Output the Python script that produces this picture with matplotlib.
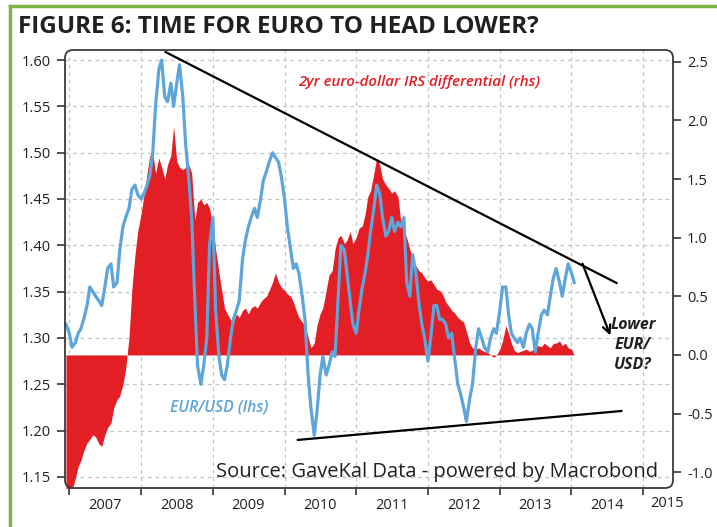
import numpy as np
import pandas as pd
import matplotlib
matplotlib.use("Agg")
import matplotlib.pyplot as plt
import matplotlib.dates as mdates
from matplotlib.patches import FancyBboxPatch
from matplotlib.lines import Line2D

# semi-monthly readings, starting mid-Dec 2006
start = "2006-12-15"

eurusd = [1.315, 1.305, 1.29, 1.295, 1.305, 1.31, 1.32, 1.335, 1.355, 1.35,
          1.345, 1.34, 1.335, 1.355, 1.375, 1.38, 1.355, 1.36, 1.395, 1.42,
          1.43, 1.44, 1.46, 1.465, 1.455, 1.45, 1.455, 1.465, 1.475, 1.50,
          1.55, 1.59, 1.60, 1.56, 1.555, 1.575, 1.55, 1.575, 1.595, 1.56,
          1.51, 1.47, 1.43, 1.34, 1.27, 1.25, 1.27, 1.30, 1.40, 1.43,
          1.33, 1.28, 1.26, 1.255, 1.27, 1.30, 1.32, 1.33, 1.34, 1.385,
          1.405, 1.42, 1.43, 1.44, 1.43, 1.45, 1.47, 1.48, 1.49, 1.50,
          1.495, 1.49, 1.475, 1.45, 1.42, 1.395, 1.375, 1.38, 1.37, 1.345,
          1.32, 1.26, 1.225, 1.195, 1.22, 1.26, 1.28, 1.26, 1.27, 1.285,
          1.28, 1.345, 1.40, 1.395, 1.37, 1.34, 1.315, 1.305, 1.33, 1.355,
          1.37, 1.39, 1.415, 1.44, 1.465, 1.455, 1.43, 1.41, 1.415, 1.43,
          1.415, 1.425, 1.42, 1.43, 1.36, 1.345, 1.39, 1.37, 1.34, 1.315,
          1.30, 1.275, 1.30, 1.335, 1.335, 1.32, 1.32, 1.315, 1.30, 1.305,
          1.28, 1.25, 1.24, 1.225, 1.21, 1.235, 1.25, 1.29, 1.31, 1.30,
          1.29, 1.285, 1.30, 1.31, 1.305, 1.33, 1.355, 1.355, 1.325, 1.305,
          1.30, 1.295, 1.30, 1.29, 1.305, 1.315, 1.31, 1.285, 1.305, 1.325,
          1.33, 1.325, 1.345, 1.365, 1.375, 1.36, 1.345, 1.365, 1.38, 1.37,
          1.36]

irs_diff = [-1.25, -1.2, -1.15, -1.05, -0.95, -0.9, -0.82, -0.75, -0.72, -0.68,
            -0.7, -0.76, -0.78, -0.68, -0.62, -0.58, -0.45, -0.38, -0.35, -0.25,
            -0.12, 0.15, 0.55, 0.85, 1.05, 1.2, 1.35, 1.55, 1.7, 1.72,
            1.55, 1.68, 1.6, 1.5, 1.62, 1.7, 1.95, 1.65, 1.6, 1.58,
            1.6, 1.62, 1.55, 1.15, 1.3, 1.33, 1.28, 1.3, 1.25, 1.1,
            0.9, 0.7, 0.55, 0.4, 0.35, 0.3, 0.28, 0.35, 0.32, 0.38,
            0.4, 0.35, 0.4, 0.42, 0.4, 0.45, 0.48, 0.5, 0.55, 0.62,
            0.7, 0.62, 0.58, 0.55, 0.52, 0.5, 0.45, 0.38, 0.32, 0.28,
            0.25, 0.15, 0.06, 0.1, 0.25, 0.35, 0.4, 0.55, 0.68, 0.72,
            0.9, 1.0, 1.02, 0.95, 0.98, 1.05, 0.95, 1.0, 1.08, 1.1,
            1.2, 1.35, 1.4, 1.55, 1.68, 1.62, 1.5, 1.45, 1.42, 1.38,
            1.4, 1.35, 1.15, 1.05, 1.0, 0.9, 0.8, 0.76, 0.72, 0.7,
            0.66, 0.63, 0.64, 0.6, 0.56, 0.55, 0.52, 0.45, 0.42, 0.38,
            0.36, 0.32, 0.3, 0.28, 0.2, 0.1, 0.06, 0.05, 0.06, 0.04,
            0.03, 0.02, 0.0, -0.02, 0.0, 0.05, 0.12, 0.25, 0.18, 0.1,
            0.04, 0.02, 0.03, 0.04, 0.05, 0.03, 0.04, 0.06, 0.08, 0.07,
            0.1, 0.08, 0.06, 0.1, 0.1, 0.12, 0.08, 0.1, 0.06, 0.05,
            0.0]

years = list(range(2007, 2016))
lhs_ticks = [1.15, 1.20, 1.25, 1.30, 1.35, 1.40, 1.45, 1.50, 1.55, 1.60]
rhs_ticks = [-1.0, -0.5, 0.0, 0.5, 1.0, 1.5, 2.0, 2.5]

d_blue = pd.date_range(start, periods=len(eurusd), freq="SMS")
d_red = pd.date_range(start, periods=len(irs_diff), freq="SMS")

# rhs <-> lhs mapping
L0, K = 1.2817, 0.12658
def to_lhs(r):
    return L0 + K * np.asarray(r)
def to_rhs(l):
    return (np.asarray(l) - L0) / K

dark = "#231F20"
red = "#E31E24"
blue = "#5DA5DA"
green = "#7DB443"

plt.rcParams["font.family"] = ["Open Sans", "DejaVu Sans"]

fig = plt.figure(figsize=(7.17, 5.27), dpi=100)
ax = fig.add_axes([65 / 717, 39 / 527, 608 / 717, 438 / 527])

ax.fill_between(d_red, to_lhs(0), to_lhs(irs_diff), color=red, lw=0, zorder=2)
ax.plot(d_blue, eurusd, color=blue, lw=2.3, zorder=3, solid_joinstyle="round")

ax.set_xlim(pd.Timestamp("2006-12-10"), pd.Timestamp("2015-06-02"))
ax.set_ylim(1.1381, 1.6108)

# year boundaries as ticks, labels at mid-year
ax.xaxis.set_major_locator(mdates.YearLocator())
ax.xaxis.set_major_formatter(plt.NullFormatter())
lab_pos = [pd.Timestamp(f"{y}-07-01") for y in years[:-1]]
ax.set_xticks(lab_pos, [str(y) for y in years[:-1]], minor=True)
ax.tick_params(axis="x", which="minor", length=0, pad=7, labelsize=10.5, labelcolor=dark)
ax.tick_params(axis="x", which="major", direction="out", length=5, width=1.2, color="#333333")
# last year label sits near the right edge of the frame
ax.text(pd.Timestamp("2015-05-05"), -0.0175, str(years[-1]), transform=ax.get_xaxis_transform(),
        ha="center", va="top", fontsize=10.5, color=dark, clip_on=False)

ax.set_yticks(lhs_ticks, [f"{v:.2f}" for v in lhs_ticks])
ax.tick_params(axis="y", direction="out", length=6, width=1.2, color="#333333",
               labelsize=10.5, labelcolor=dark, pad=4)

sec = ax.secondary_yaxis("right", functions=(to_rhs, to_lhs))
sec.set_yticks(rhs_ticks, [f"{v:.1f}" for v in rhs_ticks])
sec.tick_params(direction="out", length=6, width=1.2, color="#333333",
                labelsize=10.5, labelcolor=dark, pad=4)
sec.spines["right"].set_visible(False)

for s in ax.spines.values():
    s.set_visible(False)
ax.set_axisbelow(True)
ax.grid(True, which="major", ls=(0, (3, 3)), color="#c4c4c4", lw=0.9)

frame = FancyBboxPatch((0, 0), 1, 1, boxstyle="round,pad=0,rounding_size=0.013",
                       mutation_aspect=608 / 438, transform=ax.transAxes,
                       fill=False, ec="#3a3a3a", lw=1.3, clip_on=False, zorder=5)
ax.add_patch(frame)

# trend lines and arrow
ax.plot([pd.Timestamp("2008-05-05"), pd.Timestamp("2014-08-18")], [1.6086, 1.3594],
        color="black", lw=1.6, zorder=4)
ax.plot([pd.Timestamp("2010-03-10"), pd.Timestamp("2014-09-12")], [1.190, 1.2212],
        color="black", lw=1.6, zorder=4)
ax.annotate("", xy=(pd.Timestamp("2014-07-23"), 1.300),
            xytext=(pd.Timestamp("2014-02-21"), 1.383),
            arrowprops=dict(arrowstyle="->", lw=1.6, color="black",
                            mutation_scale=14), zorder=4)

ax.text(0.934, 0.326, "Lower\nEUR/\nUSD?", transform=ax.transAxes, ha="center",
        va="center", fontsize=11.5, fontweight="bold", style="italic", color=dark,
        linespacing=1.35)
ax.text(0.582, 0.927, "2yr euro-dollar IRS differential (rhs)", transform=ax.transAxes,
        ha="center", va="center", fontsize=10.8, fontweight="semibold", style="italic",
        color=red)
ax.text(0.253, 0.183, "EUR/USD (lhs)", transform=ax.transAxes, ha="center",
        va="center", fontsize=11.3, fontweight="semibold", style="italic", color=blue)
ax.text(0.975, 0.036, "Source: GaveKal Data - powered by Macrobond",
        transform=ax.transAxes, ha="right", va="center", fontsize=14.5, color=dark,
        zorder=6)

fig.text(18 / 717, 1 - 27 / 527, "FIGURE 6: TIME FOR EURO TO HEAD LOWER?",
         ha="left", va="center", fontsize=17.5, fontweight="bold", color=dark,
         family=["Liberation Sans Narrow", "Open Sans"])

# green border
fig.add_artist(Line2D([10 / 717, 10 / 717], [0, 1 - 6 / 527], transform=fig.transFigure,
                      color=green, lw=2.5))
fig.add_artist(Line2D([10 / 717, 1], [1 - 6 / 527, 1 - 6 / 527], transform=fig.transFigure,
                      color=green, lw=2.5))

fig.savefig("out.png", dpi=100)
